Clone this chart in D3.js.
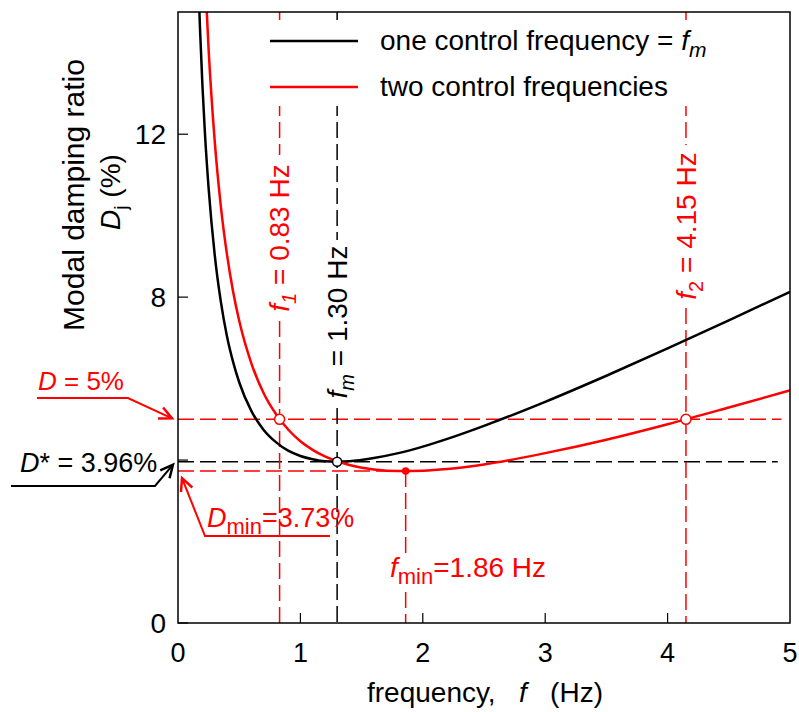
<!DOCTYPE html>
<html>
<head>
<meta charset="utf-8">
<script src="https://cdn.jsdelivr.net/npm/d3@7"></script>
<style>
  body { margin: 0; background: #fff; }
  svg text { font-family: "Liberation Sans", Arial, sans-serif; white-space: pre; }
</style>
</head>
<body>
<svg id="drawing_region"></svg>
<script>
const freqs = [0.17, 0.18, 0.2, 0.22, 0.25, 0.3, 0.35, 0.4, 0.45, 0.5, 0.6, 0.7, 0.8, 0.9,
               1.0, 1.1, 1.2, 1.3, 1.4, 1.6, 1.8, 2.0, 2.2, 2.5, 3.0, 3.5, 4.0, 4.5, 5.0];
// damping ratio (%) - one control frequency
const oneFreq = [15.40, 14.58, 13.17, 12.03, 10.68, 9.04, 7.89, 7.04, 6.41, 5.91, 5.20, 4.74, 4.44, 4.23,
                 4.10, 4.02, 3.97, 3.96, 3.97, 4.05, 4.17, 4.33, 4.52, 4.84, 5.43, 6.07, 6.74, 7.43, 8.13];
// damping ratio (%) - two control frequencies
const twoFreq = [20.5, 19.40, 17.49, 15.94, 14.09, 11.83, 10.23, 9.05, 8.14, 7.42, 6.37, 5.64, 5.13, 4.75,
                 4.46, 4.25, 4.09, 3.97, 3.88, 3.77, 3.73, 3.74, 3.78, 3.89, 4.17, 4.50, 4.88, 5.29, 5.71];

const xTicks = [0, 1, 2, 3, 4, 5];
const yTicks = [0, 4, 8, 12];
const yTickLabels = ['0', '', '8', '12'];

const fm = 1.30, Dstar = 3.96;
const f1 = 0.83, f2 = 4.15, Dtarget = 5;
const fmin = 1.86, Dmin = 3.73;

const W = 799, H = 712;
const margin = { left: 178, right: 9, top: 12, bottom: 89 };
const red = '#ff0000';

const svg = d3.select('#drawing_region').attr('width', W).attr('height', H);

const x = d3.scaleLinear().domain([0, 5]).range([margin.left, W - margin.right]);
const y = d3.scaleLinear().domain([0, 15]).range([H - margin.bottom, margin.top]);

svg.append('clipPath').attr('id', 'clip')
    .append('rect')
    .attr('x', x(0)).attr('y', y(15))
    .attr('width', x(5) - x(0)).attr('height', y(0) - y(15));

const plot = svg.append('g').attr('clip-path', 'url(#clip)');
const dash = '16,6';

// horizontal reference lines
function hline(v, f0, f1_, color) {
    plot.append('line')
        .attr('x1', x(f0)).attr('x2', x(f1_))
        .attr('y1', y(v)).attr('y2', y(v))
        .attr('stroke', color).attr('stroke-width', 1.5)
        .attr('stroke-dasharray', dash);
}
hline(Dtarget, 0, 4.93, red);
hline(Dstar, 0, 4.9, 'black');
hline(Dmin, 0, fmin, red);

// vertical reference lines with gap for label
function vline(f, vTop, vBottom, color, gap) {
    const segs = gap ? [[y(vTop), gap[0]], [gap[1], y(vBottom)]] : [[y(vTop), y(vBottom)]];
    segs.forEach(s => {
        plot.append('line')
            .attr('x1', x(f)).attr('x2', x(f))
            .attr('y1', s[0]).attr('y2', s[1])
            .attr('stroke', color).attr('stroke-width', 1.5)
            .attr('stroke-dasharray', dash);
    });
}
vline(f1, 15, 0, red, [155, 321]);
vline(fm, 15, 0, 'black', [240, 408]);
vline(f2, 15, 0, red, [145, 308]);
vline(fmin, Dmin, 0, red, [554, 592]);

// curves
const line = d3.line().x((d, i) => x(freqs[i])).y(d => y(d)).curve(d3.curveMonotoneX);
plot.append('path').datum(oneFreq).attr('d', line)
    .attr('fill', 'none').attr('stroke', 'black').attr('stroke-width', 2.5);
plot.append('path').datum(twoFreq).attr('d', line)
    .attr('fill', 'none').attr('stroke', red).attr('stroke-width', 2.5);

// markers
const markers = [
    { f: f1, v: Dtarget, stroke: red, fill: 'white', r: 5 },
    { f: f2, v: Dtarget, stroke: red, fill: 'white', r: 5 },
    { f: fm, v: Dstar, stroke: 'black', fill: 'white', r: 4.5 },
    { f: fmin, v: Dmin, stroke: red, fill: red, r: 3 },
];
svg.selectAll('circle.mk').data(markers).enter().append('circle')
    .attr('cx', d => x(d.f)).attr('cy', d => y(d.v)).attr('r', d => d.r)
    .attr('fill', d => d.fill).attr('stroke', d => d.stroke).attr('stroke-width', 1.5);

// legend background hides the dashed lines behind it
svg.append('rect').attr('x', 255).attr('y', 20).attr('width', 475).attr('height', 86)
    .attr('fill', 'white');

// frame
svg.append('rect')
    .attr('x', x(0)).attr('y', y(15))
    .attr('width', x(5) - x(0)).attr('height', y(0) - y(15))
    .attr('fill', 'none').attr('stroke', 'black').attr('stroke-width', 1.5);

// ticks (inside)
svg.selectAll('line.xt').data(xTicks.slice(1, -1)).enter().append('line')
    .attr('x1', d => x(d)).attr('x2', d => x(d))
    .attr('y1', y(0)).attr('y2', y(0) - 10)
    .attr('stroke', 'black').attr('stroke-width', 1.2);
svg.selectAll('line.yt').data(yTicks).enter().append('line')
    .attr('x1', x(0)).attr('x2', x(0) + 10)
    .attr('y1', d => y(d)).attr('y2', d => y(d))
    .attr('stroke', 'black').attr('stroke-width', 1.2);

svg.selectAll('text.xl').data(xTicks).enter().append('text')
    .attr('x', d => x(d)).attr('y', 662)
    .attr('text-anchor', 'middle').attr('font-size', 27)
    .text(d => d);
svg.selectAll('text.yl').data(yTicks).enter().append('text')
    .attr('x', 166).attr('y', d => y(d) + 10)
    .attr('text-anchor', 'end').attr('font-size', 28)
    .text((d, i) => yTickLabels[i]);

// axis titles
const xt = svg.append('text').attr('x', 485).attr('y', 702)
    .attr('text-anchor', 'middle').attr('font-size', 28);
xt.append('tspan').text('frequency,   ');
xt.append('tspan').attr('font-style', 'italic').text('f');
xt.append('tspan').text('   (Hz)');

svg.append('text').attr('transform', 'translate(84,195) rotate(-90)')
    .attr('text-anchor', 'middle').attr('font-size', 30)
    .text('Modal damping ratio');
const yt = svg.append('text').attr('transform', 'translate(120,192) rotate(-90)')
    .attr('text-anchor', 'middle').attr('font-size', 28);
yt.append('tspan').attr('font-style', 'italic').text('D');
yt.append('tspan').attr('font-size', 19).attr('dy', 7).text('j');
yt.append('tspan').attr('dy', -7).text(' (%)');

function addParts(t, parts) {
    parts.forEach(p => {
        const s = t.append('tspan').text(p.t);
        if (p.it) s.attr('font-style', 'italic');
        if (p.fs) s.attr('font-size', p.fs);
        if (p.dy) s.attr('dy', p.dy);
    });
}

// rotated labels on vertical lines
function vlabel(cx, cy, color, parts) {
    const t = svg.append('text')
        .attr('transform', `translate(${cx},${cy}) rotate(-90)`)
        .attr('text-anchor', 'middle').attr('dy', '0.35em')
        .attr('font-size', 28).attr('fill', color);
    addParts(t, parts);
}
vlabel(x(f1), 238, red, [{ t: 'f', it: 1 }, { t: '1', it: 1, fs: 20, dy: 7 }, { t: ' = 0.83 Hz', dy: -7 }]);
vlabel(x(fm), 322, 'black', [{ t: 'f', it: 1 }, { t: 'm', it: 1, fs: 20, dy: 7 }, { t: ' = 1.30 Hz', dy: -7 }]);
vlabel(x(f2), 226, red, [{ t: 'f', it: 1 }, { t: '2', fs: 20, dy: 7 }, { t: ' = 4.15 Hz', dy: -7 }]);

// legend
const legend = [
    { color: 'black', y: 41, parts: [{ t: 'one control frequency = ' }, { t: 'f', it: 1 }, { t: 'm', it: 1, fs: 21, dy: 7 }] },
    { color: red, y: 87, parts: [{ t: 'two control frequencies' }] },
];
legend.forEach(l => {
    svg.append('line').attr('x1', 270).attr('x2', 358).attr('y1', l.y).attr('y2', l.y)
        .attr('stroke', l.color).attr('stroke-width', 2.5);
    const t = svg.append('text').attr('x', 380).attr('y', l.y + 9).attr('font-size', 28);
    addParts(t, l.parts);
});

// annotations with arrows
function note(tx, ty, fs, color, parts, pts) {
    const t = svg.append('text').attr('x', tx).attr('y', ty).attr('font-size', fs).attr('fill', color);
    addParts(t, parts);
    if (!pts) return;
    svg.append('path').attr('d', d3.line()(pts))
        .attr('fill', 'none').attr('stroke', color).attr('stroke-width', 2);
    const [a, b] = pts.slice(-2);
    const ang = Math.atan2(b[1] - a[1], b[0] - a[0]);
    const L = 14, spread = 0.45;
    const head = [
        [b[0] - L * Math.cos(ang - spread), b[1] - L * Math.sin(ang - spread)],
        b,
        [b[0] - L * Math.cos(ang + spread), b[1] - L * Math.sin(ang + spread)],
    ];
    svg.append('path').attr('d', d3.line()(head))
        .attr('fill', 'none').attr('stroke', color).attr('stroke-width', 2.5);
}
note(38, 390, 26, red, [{ t: 'D', it: 1 }, { t: ' = 5%' }],
    [[37, 398], [128, 398], [172, y(Dtarget) - 1]]);
note(20, 472, 27, 'black', [{ t: 'D', it: 1 }, { t: '* = 3.96%' }],
    [[11, 486], [155, 486], [173, y(Dstar) + 3]]);
note(207, 527, 27, red, [{ t: 'D', it: 1 }, { t: 'min', fs: 22, dy: 7 }, { t: '=3.73%', dy: -7 }],
    [[330, 536], [205, 536], [182, y(Dmin) + 7]]);
note(390, 577, 28, red, [{ t: 'f', it: 1 }, { t: 'min', fs: 22, dy: 7 }, { t: '=1.86 Hz', dy: -7 }]);
</script>
</body>
</html>
